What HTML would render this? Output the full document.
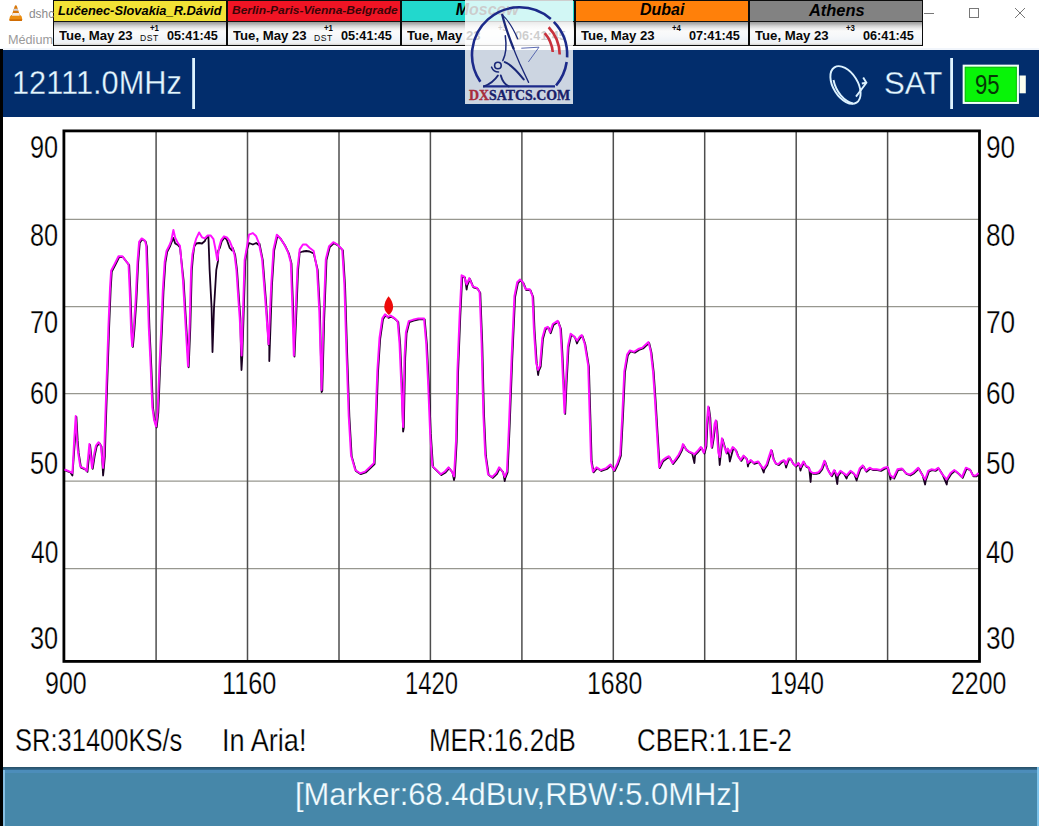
<!DOCTYPE html>
<html><head><meta charset="utf-8"><title>Spectrum</title>
<style>
html,body{margin:0;padding:0;}
body{width:1039px;height:826px;position:relative;overflow:hidden;background:#fff;}
.abs{position:absolute;}
.t{position:absolute;white-space:pre;transform-origin:0 0;}
.box{box-sizing:border-box;border:1px solid #0c0c0c;}
.drow{background:linear-gradient(to bottom,#9a9a9a 0px,#b4b4b4 2px,#d4d4d4 4px,#ececec 6.5px,#fafafa 9px,#f6f8fa 14px,#eef2f7 19px,#f2f2f2 21px,#d8d8d8 22.6px);}
</style></head>
<body>
<div class="abs" style="left:0;top:0;width:1039px;height:50px;background:#fff"></div>
<div class="abs" style="left:0;top:48px;width:1039px;height:2px;background:#f1f5fb"></div>
<div class="abs" style="left:0;top:49px;width:3px;height:777px;background:#000"></div>
<div class="abs" style="left:3px;top:50px;width:1036px;height:67.3px;background:#022d6c"></div>
<div class="abs" style="left:3px;top:767.3px;width:1034px;height:58.7px;background:#4687a9"></div>
<div class="abs" style="left:3px;top:767.3px;width:1034px;height:3px;background:linear-gradient(to bottom,#284f66,#2f6283 70%,#3b7299)"></div>
<div class="abs" style="left:3px;top:770.3px;width:1034px;height:2.4px;background:#4c8dba"></div>
<div class="abs" style="left:1037px;top:767.3px;width:2px;height:58.7px;background:#7cc2ea"></div>
<div class="abs" style="left:3px;top:770px;width:1.5px;height:56px;background:#86bfe2"></div>
<svg class="abs" width="1039" height="826" viewBox="0 0 1039 826" style="left:0;top:0">
<g fill="none"><line x1="64" y1="219.4" x2="979" y2="219.4" stroke="#97978f" stroke-width="1.3"/><line x1="64" y1="306.6" x2="979" y2="306.6" stroke="#97978f" stroke-width="1.3"/><line x1="64" y1="393.6" x2="979" y2="393.6" stroke="#97978f" stroke-width="1.3"/><line x1="64" y1="481.2" x2="979" y2="481.2" stroke="#97978f" stroke-width="1.3"/><line x1="64" y1="568.7" x2="979" y2="568.7" stroke="#97978f" stroke-width="1.3"/><line x1="156.1" y1="131" x2="156.1" y2="661" stroke="#4e4e4e" stroke-width="1.5"/><line x1="247.5" y1="131" x2="247.5" y2="661" stroke="#4e4e4e" stroke-width="1.5"/><line x1="339.0" y1="131" x2="339.0" y2="661" stroke="#4e4e4e" stroke-width="1.5"/><line x1="430.4" y1="131" x2="430.4" y2="661" stroke="#4e4e4e" stroke-width="1.5"/><line x1="521.9" y1="131" x2="521.9" y2="661" stroke="#4e4e4e" stroke-width="1.5"/><line x1="613.3" y1="131" x2="613.3" y2="661" stroke="#4e4e4e" stroke-width="1.5"/><line x1="704.7" y1="131" x2="704.7" y2="661" stroke="#4e4e4e" stroke-width="1.5"/><line x1="796.2" y1="131" x2="796.2" y2="661" stroke="#4e4e4e" stroke-width="1.5"/><line x1="887.6" y1="131" x2="887.6" y2="661" stroke="#4e4e4e" stroke-width="1.5"/></g>
<rect x="63.9" y="130.9" width="915.6" height="530.5" fill="none" stroke="#000" stroke-width="2.8"/>
<polyline points="65.2,470.4 67.7,471.4 70.5,472.5 72.4,475.5 74.9,440.9 76.4,416.9 77.7,440.9 78.7,452.9 81.0,467.6 85.2,469.3 87.5,471.9 90.1,444.8 92.7,468.9 94.7,455.9 96.7,446.4 99.3,443.1 101.5,446.4 103.1,475.5 103.8,468.9 104.9,455.9 105.5,434.1 107.3,381.3 109.1,328.5 110.7,288.9 111.8,271.7 115.2,265.1 119.2,257.2 123.1,257.2 127.1,262.5 129.2,265.1 130.3,288.9 131.9,333.8 132.9,347.0 134.5,328.5 136.3,302.1 138.2,262.5 139.8,242.7 142.4,239.3 145.6,241.4 146.9,246.7 148.2,288.9 149.5,328.5 151.4,368.1 153.0,407.7 154.8,420.9 156.7,427.5 158.3,413.0 160.1,368.1 162.0,328.5 163.5,291.5 165.4,262.5 167.2,251.9 169.9,246.7 171.3,243.0 173.4,238.0 175.2,243.5 177.9,245.0 180.0,247.5 183.6,280.3 186.4,328.1 188.7,367.3 190.3,328.1 191.8,270.7 193.1,255.4 194.3,246.5 196.3,243.5 199.1,243.0 202.0,243.5 204.9,241.0 205.6,239.2 207.7,236.4 208.4,236.3 209.6,269.8 211.6,308.1 212.5,352.0 214.0,308.1 216.3,269.8 218.0,261.1 218.2,250.7 219.9,247.8 221.8,241.1 224.7,237.2 226.9,240.0 229.7,248.0 232.0,250.5 232.7,247.8 235.2,255.4 237.1,270.7 239.0,299.4 240.4,318.5 241.0,356.0 241.5,370.0 242.3,356.4 243.8,309.0 245.3,261.1 246.9,250.0 249.0,243.0 252.9,244.5 256.2,243.0 258.8,245.0 259.5,243.8 262.8,260.1 266.1,302.6 268.6,345.0 269.3,345.1 269.3,361.0 271.9,286.3 274.2,250.3 277.5,235.6 280.8,238.9 285.0,245.4 288.9,253.6 291.5,263.4 292.9,302.6 294.5,356.5 296.1,318.9 298.1,269.9 299.7,252.5 302.9,251.5 306.2,251.0 309.5,251.5 313.7,253.5 317.7,269.9 320.0,312.4 321.6,392.0 322.3,390.8 324.2,318.9 326.5,260.1 329.8,247.0 334.0,243.1 338.0,245.4 342.9,250.3 345.1,286.3 347.1,351.6 349.4,416.9 351.7,456.2 355.9,470.9 360.8,474.2 365.7,472.5 370.4,468.2 374.6,464.0 376.0,427.9 378.0,372.2 380.2,338.8 383.0,319.3 385.7,315.2 388.5,317.9 391.3,316.5 395.5,319.3 398.3,322.1 400.2,344.4 401.9,383.3 403.1,431.5 403.8,427.9 405.2,358.3 406.6,333.2 409.4,322.1 413.6,320.7 419.1,319.3 424.7,319.3 426.9,344.4 428.9,386.1 430.8,433.4 433.0,466.8 437.2,471.0 441.4,475.1 445.6,472.4 449.2,468.2 452.5,472.4 454.0,480.0 454.7,477.3 456.7,441.8 458.1,372.2 460.3,316.5 462.3,276.2 465.0,277.6 466.6,289.5 467.3,285.3 470.0,279.0 473.4,287.3 477.6,288.7 480.3,292.9 482.3,344.4 484.0,413.9 485.9,455.7 488.7,475.1 492.9,477.9 497.0,473.8 499.8,468.2 503.2,472.4 504.7,481.0 505.4,477.9 507.6,472.4 509.6,427.9 512.3,358.3 515.1,297.1 517.9,283.2 520.7,280.4 523.5,283.2 526.3,290.1 530.4,290.1 533.2,297.1 534.6,330.5 536.8,363.9 538.1,375.0 538.8,370.8 540.7,366.6 543.0,338.8 545.7,329.1 548.5,327.7 550.7,333.2 553.5,324.9 558.3,321.6 561.0,329.1 562.4,352.7 563.8,383.3 565.2,413.9 566.6,383.3 568.6,347.2 571.3,334.6 575.0,337.4 577.0,343.5 577.7,341.6 580.5,337.4 582.5,336.0 585.3,344.4 588.9,366.6 590.3,413.9 591.7,461.2 593.6,472.4 597.2,468.2 601.4,471.0 607.0,469.0 611.1,465.4 614.7,471.0 618.1,464.0 620.9,455.7 623.1,413.9 625.0,372.2 627.8,355.5 630.6,351.3 634.8,352.7 639.0,349.9 643.1,348.5 645.9,345.8 649.2,343.0 651.5,352.7 653.7,372.2 655.6,400.0 657.6,433.4 659.8,468.2 663.2,461.2 666.8,458.5 669.6,457.1 673.2,464.0 676.5,459.8 679.3,455.7 682.1,450.1 683.6,445.0 686.5,450.0 689.4,452.2 692.2,453.6 694.4,463.0 695.1,455.1 698.0,452.2 701.6,447.9 704.5,453.6 706.4,446.4 707.4,424.8 708.9,407.4 710.3,417.6 711.0,432.0 712.2,447.9 713.6,439.2 715.3,424.8 716.5,421.2 717.5,432.0 719.7,465.0 720.4,458.0 722.6,439.2 724.7,446.4 726.9,453.6 728.3,449.3 729.8,461.5 733.4,447.9 736.3,450.8 738.4,456.5 741.3,460.9 744.2,456.5 747.1,459.4 747.9,466.5 748.6,463.8 751.4,460.9 754.3,463.8 758.7,462.3 761.5,466.6 763.7,472.5 764.4,469.5 767.3,465.2 769.5,458.0 771.9,450.8 773.8,459.4 776.0,463.8 778.9,465.2 781.8,462.3 784.6,460.9 786.1,467.5 786.8,465.2 789.0,459.4 791.1,459.4 793.3,463.8 796.2,466.6 799.1,463.8 800.5,470.5 801.2,468.1 804.1,462.3 806.3,466.6 809.2,468.1 810.6,482.0 811.3,472.4 813.5,473.9 816.4,473.9 819.3,473.1 822.2,469.5 825.1,461.6 827.9,469.5 830.7,474.6 831.9,476.3 834.9,470.9 837.3,484.0 838.0,476.3 841.1,471.7 844.2,474.0 846.6,478.5 847.3,476.3 851.1,471.7 854.2,474.0 856.6,480.5 857.3,477.9 860.3,469.4 863.4,466.3 866.5,471.7 870.4,468.6 873.4,470.2 877.3,470.2 881.1,470.9 885.0,468.6 888.1,467.8 890.4,479.5 891.1,476.3 894.2,478.6 898.1,470.2 902.7,469.4 906.5,474.0 910.4,475.5 914.2,473.2 918.9,468.6 922.7,475.5 925.1,484.5 925.8,480.4 928.9,471.7 932.0,470.2 935.8,470.9 938.9,468.6 942.7,474.8 946.7,484.5 947.4,480.2 951.2,474.0 955.0,470.9 958.9,474.0 962.7,477.9 966.6,468.6 970.4,470.2 973.5,476.3 976.6,476.3 979.2,474.0" fill="none" stroke="#1a0022" stroke-width="1.8" stroke-linejoin="round"/>
<polyline points="64.5,469.5 67.0,470.5 69.8,471.6 72.4,473.0 74.2,440.0 75.7,416.0 77.0,440.0 78.0,452.0 80.3,466.7 84.5,468.4 86.8,471.0 89.4,443.9 92.0,468.0 94.0,455.0 96.0,445.5 98.6,442.2 100.8,445.5 103.1,468.0 104.2,455.0 104.8,433.2 106.6,380.4 108.4,327.6 110.0,288.0 111.1,270.8 114.5,264.2 118.5,256.3 122.4,256.3 126.4,261.6 128.5,264.2 129.6,288.0 131.2,332.9 132.2,346.1 133.8,327.6 135.6,301.2 137.5,261.6 139.1,241.8 141.7,238.4 144.9,240.5 146.2,245.8 147.5,288.0 148.8,327.6 150.7,367.2 152.3,406.8 154.1,420.0 156.0,426.6 157.6,412.1 159.4,367.2 161.3,327.6 162.8,290.6 164.7,261.6 166.5,251.0 169.2,245.8 171.3,240.5 173.4,229.9 175.2,237.8 177.9,243.1 180.0,245.8 182.9,279.4 185.7,327.2 188.0,366.4 189.6,327.2 191.1,269.8 192.4,254.5 194.3,245.0 196.3,238.3 199.1,232.5 202.0,237.3 204.9,238.3 207.7,235.4 210.6,235.4 213.5,239.2 215.4,248.8 217.3,260.2 219.2,246.9 221.1,240.2 224.0,236.3 226.9,237.3 229.7,241.1 232.0,246.9 234.5,254.5 236.4,269.8 238.3,298.5 239.7,317.6 240.8,340.0 241.6,355.5 243.1,308.1 244.6,260.2 246.9,246.9 249.0,234.7 252.9,233.1 256.2,236.3 258.8,242.9 262.1,259.2 265.4,301.7 268.6,344.2 271.2,285.4 273.5,249.4 276.8,234.7 280.1,238.0 284.3,244.5 288.2,252.7 290.8,262.5 292.2,301.7 293.8,355.6 295.4,318.0 297.4,269.0 299.7,249.4 302.9,244.5 306.2,244.5 309.5,247.8 313.7,251.0 317.0,269.0 319.3,311.5 321.6,389.9 323.5,318.0 325.8,259.2 329.1,246.1 333.3,242.2 337.3,244.5 342.2,249.4 344.4,285.4 346.4,350.7 348.7,416.0 351.0,455.3 355.2,470.0 360.1,473.3 365.0,471.6 369.7,467.3 373.9,463.1 375.3,427.0 377.3,371.3 379.5,337.9 382.3,318.4 385.0,314.3 387.8,317.0 390.6,315.6 394.8,318.4 397.6,321.2 399.5,343.5 401.2,382.4 403.1,427.0 404.5,357.4 405.9,332.3 408.7,321.2 412.9,319.8 418.4,318.4 424.0,318.4 426.2,343.5 428.2,385.2 430.1,432.5 432.3,465.9 436.5,470.1 440.7,474.2 444.9,471.5 448.5,467.3 451.8,471.5 454.0,476.4 456.0,440.9 457.4,371.3 459.6,315.6 461.6,275.3 464.3,276.7 466.6,284.4 469.3,278.1 472.7,286.4 476.9,287.8 479.6,292.0 481.6,343.5 483.3,413.0 485.2,454.8 488.0,474.2 492.2,477.0 496.3,472.9 499.1,467.3 502.5,471.5 504.7,477.0 506.9,471.5 508.9,427.0 511.6,357.4 514.4,296.2 517.2,282.3 520.0,279.5 522.8,282.3 525.6,289.2 529.7,289.2 532.5,296.2 533.9,329.6 536.1,363.0 538.1,369.9 540.0,365.7 542.3,337.9 545.0,328.2 547.8,326.8 550.0,332.3 552.8,324.0 557.6,320.7 560.3,328.2 561.7,351.8 563.1,382.4 564.5,413.0 565.9,382.4 567.9,346.3 570.6,333.7 574.3,336.5 577.0,340.7 579.8,336.5 581.8,335.1 584.6,343.5 588.2,365.7 589.6,413.0 591.0,460.3 592.9,471.5 596.5,467.3 600.7,470.1 606.3,468.1 610.4,464.5 614.0,470.1 617.4,463.1 620.2,454.8 622.4,413.0 624.3,371.3 627.1,354.6 629.9,350.4 634.1,351.8 638.3,349.0 642.4,347.6 645.2,344.9 648.5,342.1 650.8,351.8 653.0,371.3 654.9,399.1 656.9,432.5 659.1,467.3 662.5,460.3 666.1,457.6 668.9,456.2 672.5,463.1 675.8,458.9 678.6,454.8 681.4,449.2 682.9,444.1 685.8,449.1 688.7,451.3 691.5,452.7 694.4,454.2 697.3,451.3 700.9,447.0 703.8,452.7 705.7,445.5 706.7,423.9 708.2,406.5 709.6,416.7 710.3,431.1 711.5,447.0 712.9,438.3 714.6,423.9 715.8,420.3 716.8,431.1 718.3,452.7 719.7,457.1 721.9,438.3 724.0,445.5 726.2,452.7 727.6,448.4 729.8,452.7 732.7,447.0 735.6,449.9 737.7,455.6 740.6,460.0 743.5,455.6 746.4,458.5 747.9,462.9 750.7,460.0 753.6,462.9 758.0,461.4 760.8,465.7 763.7,468.6 766.6,464.3 768.8,457.1 771.2,449.9 773.1,458.5 775.3,462.9 778.2,464.3 781.1,461.4 783.9,460.0 786.1,464.3 788.3,458.5 790.4,458.5 792.6,462.9 795.5,465.7 798.4,462.9 800.5,467.2 803.4,461.4 805.6,465.7 808.5,467.2 810.6,471.5 812.8,473.0 815.7,473.0 818.6,472.2 821.5,468.6 824.4,460.7 827.2,468.6 830.0,473.7 831.2,475.4 834.2,470.0 837.3,475.4 840.4,470.8 843.5,473.1 846.6,475.4 850.4,470.8 853.5,473.1 856.6,477.0 859.6,468.5 862.7,465.4 865.8,470.8 869.7,467.7 872.7,469.3 876.6,469.3 880.4,470.0 884.3,467.7 887.4,466.9 890.4,475.4 893.5,477.7 897.4,469.3 902.0,468.5 905.8,473.1 909.7,474.6 913.5,472.3 918.2,467.7 922.0,474.6 925.1,479.5 928.2,470.8 931.3,469.3 935.1,470.0 938.2,467.7 942.0,473.9 946.7,479.3 950.5,473.1 954.3,470.0 958.2,473.1 962.0,477.0 965.9,467.7 969.7,469.3 972.8,475.4 975.9,475.4 978.5,473.1" fill="none" stroke="#ff10ff" stroke-width="1.95" stroke-linejoin="round"/>
<path d="M388.6,296.3 C391.2,299.5 393.3,303.5 393.1,307.5 C392.9,311 390.6,313.8 388.9,315 C387.1,313.8 384.6,311 384.3,307.5 C384.1,303.5 386,299.5 388.6,296.3 Z" fill="#ee0a0a"/>
</svg>
<svg class="abs" width="1039" height="826" viewBox="0 0 1039 826" style="left:0;top:0">
<rect x="192.2" y="58" width="2.8" height="51" fill="#dff4ff"/>
<rect x="950.2" y="58" width="2.8" height="51" fill="#dff4ff"/>
<g fill="none" stroke="#dcf2ff" stroke-width="1.9">
<ellipse cx="845.5" cy="85" rx="12.2" ry="20.8" transform="rotate(-32 845.5 85)"/>
<path d="M833.5,80 C836,92 844,101 853,103.5" />
<path d="M856,96.6 L866.4,82.8 L863.2,77.6 M866.4,82.8 L861.8,83.5"/>
</g>
<rect x="963.7" y="65.7" width="54.2" height="37.2" fill="#08f408" stroke="#f2fff6" stroke-width="2.1"/><rect x="965.3" y="67.3" width="51" height="34" fill="none" stroke="#12b812" stroke-width="0.9"/>
<rect x="1019.5" y="75.5" width="6.3" height="17.8" fill="#fbfff0"/>
</svg>
<!-- window controls -->
<svg class="abs" width="1039" height="50" style="left:0;top:0">
<line x1="924" y1="13.5" x2="934" y2="13.5" stroke="#777" stroke-width="1"/>
<rect x="969.5" y="8.5" width="9" height="9" fill="none" stroke="#777" stroke-width="1"/>
<path d="M1015,8 L1025,18 M1025,8 L1015,18" stroke="#777" stroke-width="1"/>
<g>
<path d="M11.4,15.1 Q9.5,16 9.3,19.4 Q9.3,20.9 11,20.9 L20.6,20.9 Q22.3,20.9 22.3,19.4 Q22.1,16 20.2,15.1 Z" fill="#ec8e10"/>
<path d="M15.8,5.2 Q16.6,5.2 17,6.6 L19.9,15.6 L11.7,15.6 L14.6,6.6 Q15,5.2 15.8,5.2 Z" fill="#d9780a"/>
<path d="M14,8.7 L17.6,8.7 L18.3,10.8 L13.3,10.8 Z" fill="#d2d2dc"/>
<path d="M12.6,13.1 L19,13.1 L19.8,15.7 L11.8,15.7 Z" fill="#f6ece4"/>
<rect x="9.6" y="19.4" width="12.4" height="1.4" fill="#c96400"/>
</g>
</svg>
<div class="abs box" style="left:53px;top:0;width:174px;height:46px;">
<div class="abs" style="left:0;top:0;width:172px;height:20px;background:#f2e236"></div>
<div class="abs" style="left:0;top:20px;width:172px;height:1.4px;background:#141414"></div>
<div class="abs drow" style="left:0;top:21.4px;width:172px;height:22.6px;"></div>
</div><div class="abs box" style="left:227px;top:0;width:174px;height:46px;">
<div class="abs" style="left:0;top:0;width:172px;height:20px;background:#f01424"></div>
<div class="abs" style="left:0;top:20px;width:172px;height:1.4px;background:#141414"></div>
<div class="abs drow" style="left:0;top:21.4px;width:172px;height:22.6px;"></div>
</div><div class="abs box" style="left:401px;top:0;width:174px;height:46px;">
<div class="abs" style="left:0;top:0;width:172px;height:20px;background:#22d8cd"></div>
<div class="abs" style="left:0;top:20px;width:172px;height:1.4px;background:#141414"></div>
<div class="abs drow" style="left:0;top:21.4px;width:172px;height:22.6px;"></div>
</div><div class="abs box" style="left:575px;top:0;width:174px;height:46px;">
<div class="abs" style="left:0;top:0;width:172px;height:20px;background:#ff800a"></div>
<div class="abs" style="left:0;top:20px;width:172px;height:1.4px;background:#141414"></div>
<div class="abs drow" style="left:0;top:21.4px;width:172px;height:22.6px;"></div>
</div><div class="abs box" style="left:749px;top:0;width:174px;height:46px;">
<div class="abs" style="left:0;top:0;width:172px;height:20px;background:#828282"></div>
<div class="abs" style="left:0;top:20px;width:172px;height:1.4px;background:#141414"></div>
<div class="abs drow" style="left:0;top:21.4px;width:172px;height:22.6px;"></div>
</div>
<span class="t" style="left:12.13px;top:66.40px;font-family:'Liberation Sans', Arial, sans-serif;font-size:33px;line-height:33px;font-weight:400;font-style:normal;color:#e2f6ff;transform:scaleX(0.9330);-webkit-text-stroke:0.3px #022d6c;">12111.0MHz</span><span class="t" style="left:883.75px;top:67.40px;font-family:'Liberation Sans', Arial, sans-serif;font-size:32px;line-height:32px;font-weight:400;font-style:normal;color:#e2f6ff;transform:scaleX(0.9754);-webkit-text-stroke:0.3px #022d6c;">SAT</span><span class="t" style="left:974.61px;top:71.40px;font-family:'Liberation Sans', Arial, sans-serif;font-size:28px;line-height:28px;font-weight:400;font-style:normal;color:#063806;transform:scaleX(0.7897);">95</span><span class="t" style="left:30.37px;top:132.30px;font-family:'Liberation Sans', Arial, sans-serif;font-size:31px;line-height:31px;font-weight:400;font-style:normal;color:#000;transform:scaleX(0.8161);-webkit-text-stroke:0.25px #fff;">90</span><span class="t" style="left:985.51px;top:132.30px;font-family:'Liberation Sans', Arial, sans-serif;font-size:31px;line-height:31px;font-weight:400;font-style:normal;color:#000;transform:scaleX(0.8452);-webkit-text-stroke:0.25px #fff;">90</span><span class="t" style="left:30.37px;top:219.60px;font-family:'Liberation Sans', Arial, sans-serif;font-size:31px;line-height:31px;font-weight:400;font-style:normal;color:#000;transform:scaleX(0.8161);-webkit-text-stroke:0.25px #fff;">80</span><span class="t" style="left:985.51px;top:219.60px;font-family:'Liberation Sans', Arial, sans-serif;font-size:31px;line-height:31px;font-weight:400;font-style:normal;color:#000;transform:scaleX(0.8452);-webkit-text-stroke:0.25px #fff;">80</span><span class="t" style="left:30.37px;top:307.00px;font-family:'Liberation Sans', Arial, sans-serif;font-size:31px;line-height:31px;font-weight:400;font-style:normal;color:#000;transform:scaleX(0.8161);-webkit-text-stroke:0.25px #fff;">70</span><span class="t" style="left:985.51px;top:307.00px;font-family:'Liberation Sans', Arial, sans-serif;font-size:31px;line-height:31px;font-weight:400;font-style:normal;color:#000;transform:scaleX(0.8452);-webkit-text-stroke:0.25px #fff;">70</span><span class="t" style="left:30.37px;top:377.60px;font-family:'Liberation Sans', Arial, sans-serif;font-size:31px;line-height:31px;font-weight:400;font-style:normal;color:#000;transform:scaleX(0.8161);-webkit-text-stroke:0.25px #fff;">60</span><span class="t" style="left:985.51px;top:377.60px;font-family:'Liberation Sans', Arial, sans-serif;font-size:31px;line-height:31px;font-weight:400;font-style:normal;color:#000;transform:scaleX(0.8452);-webkit-text-stroke:0.25px #fff;">60</span><span class="t" style="left:30.37px;top:448.40px;font-family:'Liberation Sans', Arial, sans-serif;font-size:31px;line-height:31px;font-weight:400;font-style:normal;color:#000;transform:scaleX(0.8161);-webkit-text-stroke:0.25px #fff;">50</span><span class="t" style="left:985.51px;top:448.40px;font-family:'Liberation Sans', Arial, sans-serif;font-size:31px;line-height:31px;font-weight:400;font-style:normal;color:#000;transform:scaleX(0.8452);-webkit-text-stroke:0.25px #fff;">50</span><span class="t" style="left:31.21px;top:536.90px;font-family:'Liberation Sans', Arial, sans-serif;font-size:31px;line-height:31px;font-weight:400;font-style:normal;color:#000;transform:scaleX(0.7906);-webkit-text-stroke:0.25px #fff;">40</span><span class="t" style="left:986.38px;top:536.90px;font-family:'Liberation Sans', Arial, sans-serif;font-size:31px;line-height:31px;font-weight:400;font-style:normal;color:#000;transform:scaleX(0.8187);-webkit-text-stroke:0.25px #fff;">40</span><span class="t" style="left:30.37px;top:623.40px;font-family:'Liberation Sans', Arial, sans-serif;font-size:31px;line-height:31px;font-weight:400;font-style:normal;color:#000;transform:scaleX(0.8161);-webkit-text-stroke:0.25px #fff;">30</span><span class="t" style="left:985.51px;top:623.40px;font-family:'Liberation Sans', Arial, sans-serif;font-size:31px;line-height:31px;font-weight:400;font-style:normal;color:#000;transform:scaleX(0.8452);-webkit-text-stroke:0.25px #fff;">30</span><span class="t" style="left:44.59px;top:668.40px;font-family:'Liberation Sans', Arial, sans-serif;font-size:31px;line-height:31px;font-weight:400;font-style:normal;color:#000;transform:scaleX(0.8063);-webkit-text-stroke:0.25px #fff;">900</span><span class="t" style="left:221.85px;top:668.40px;font-family:'Liberation Sans', Arial, sans-serif;font-size:31px;line-height:31px;font-weight:400;font-style:normal;color:#000;transform:scaleX(0.8161);-webkit-text-stroke:0.25px #fff;">1160</span><span class="t" style="left:405.20px;top:668.40px;font-family:'Liberation Sans', Arial, sans-serif;font-size:31px;line-height:31px;font-weight:400;font-style:normal;color:#000;transform:scaleX(0.7677);-webkit-text-stroke:0.25px #fff;">1420</span><span class="t" style="left:586.90px;top:668.40px;font-family:'Liberation Sans', Arial, sans-serif;font-size:31px;line-height:31px;font-weight:400;font-style:normal;color:#000;transform:scaleX(0.8015);-webkit-text-stroke:0.25px #fff;">1680</span><span class="t" style="left:770.46px;top:668.40px;font-family:'Liberation Sans', Arial, sans-serif;font-size:31px;line-height:31px;font-weight:400;font-style:normal;color:#000;transform:scaleX(0.7815);-webkit-text-stroke:0.25px #fff;">1940</span><span class="t" style="left:951.30px;top:668.40px;font-family:'Liberation Sans', Arial, sans-serif;font-size:31px;line-height:31px;font-weight:400;font-style:normal;color:#000;transform:scaleX(0.8015);-webkit-text-stroke:0.25px #fff;">2200</span><span class="t" style="left:15.23px;top:724.80px;font-family:'Liberation Sans', Arial, sans-serif;font-size:30.5px;line-height:30.5px;font-weight:400;font-style:normal;color:#000;transform:scaleX(0.8365);-webkit-text-stroke:0.25px #fff;">SR:31400KS/s</span><span class="t" style="left:221.53px;top:724.80px;font-family:'Liberation Sans', Arial, sans-serif;font-size:30.5px;line-height:30.5px;font-weight:400;font-style:normal;color:#000;transform:scaleX(0.8899);-webkit-text-stroke:0.25px #fff;">In Aria!</span><span class="t" style="left:429.15px;top:724.80px;font-family:'Liberation Sans', Arial, sans-serif;font-size:30.5px;line-height:30.5px;font-weight:400;font-style:normal;color:#000;transform:scaleX(0.8494);-webkit-text-stroke:0.25px #fff;">MER:16.2dB</span><span class="t" style="left:637.01px;top:724.80px;font-family:'Liberation Sans', Arial, sans-serif;font-size:30.5px;line-height:30.5px;font-weight:400;font-style:normal;color:#000;transform:scaleX(0.8464);-webkit-text-stroke:0.25px #fff;">CBER:1.1E-2</span><span class="t" style="left:294.57px;top:778.40px;font-family:'Liberation Sans', Arial, sans-serif;font-size:32px;line-height:32px;font-weight:400;font-style:normal;color:#f2fcff;transform:scaleX(0.9656);-webkit-text-stroke:0.25px #4687a9;">[Marker:68.4dBuv,RBW:5.0MHz]</span><span class="t" style="left:28.71px;top:7.90px;font-family:'Segoe UI', 'Liberation Sans', Arial, sans-serif;font-size:12px;line-height:12px;font-weight:400;font-style:normal;color:#8a8a8a;transform:scaleX(0.9917);">dshc</span><span class="t" style="left:7.75px;top:33.90px;font-family:'Segoe UI', 'Liberation Sans', Arial, sans-serif;font-size:12px;line-height:12px;font-weight:400;font-style:normal;color:#9a9a9a;transform:scaleX(1.0537);">Médium</span><span class="t" style="left:58.00px;top:4.40px;font-family:'Liberation Sans', Arial, sans-serif;font-size:13px;line-height:13px;font-weight:700;font-style:italic;color:#000;transform:scaleX(0.9880);">Lučenec-Slovakia_R.Dávid</span><span class="t" style="left:58.80px;top:28.90px;font-family:'Liberation Sans', Arial, sans-serif;font-size:13.6px;line-height:13.6px;font-weight:700;font-style:normal;color:#080808;transform:scaleX(0.9684);">Tue, May 23</span><span class="t" style="left:149.80px;top:23.80px;font-family:'Liberation Sans', Arial, sans-serif;font-size:9px;line-height:9px;font-weight:700;font-style:normal;color:#080808;transform:scaleX(0.8700);">+1</span><span class="t" style="left:139.64px;top:33.60px;font-family:'Liberation Sans', Arial, sans-serif;font-size:9px;line-height:9px;font-weight:400;font-style:normal;color:#080808;transform:scaleX(0.9556);letter-spacing:0.5px;">DST</span><span class="t" style="left:166.67px;top:28.90px;font-family:'Liberation Sans', Arial, sans-serif;font-size:13.6px;line-height:13.6px;font-weight:700;font-style:normal;color:#080808;transform:scaleX(0.9340);">05:41:45</span><span class="t" style="left:232.10px;top:5.30px;font-family:'Liberation Sans', Arial, sans-serif;font-size:11.5px;line-height:11.5px;font-weight:700;font-style:italic;color:#3a0508;transform:scaleX(1.0443);">Berlin-Paris-Vienna-Belgrade</span><span class="t" style="left:232.80px;top:28.90px;font-family:'Liberation Sans', Arial, sans-serif;font-size:13.6px;line-height:13.6px;font-weight:700;font-style:normal;color:#080808;transform:scaleX(0.9684);">Tue, May 23</span><span class="t" style="left:323.80px;top:23.80px;font-family:'Liberation Sans', Arial, sans-serif;font-size:9px;line-height:9px;font-weight:700;font-style:normal;color:#080808;transform:scaleX(0.8700);">+1</span><span class="t" style="left:313.64px;top:33.60px;font-family:'Liberation Sans', Arial, sans-serif;font-size:9px;line-height:9px;font-weight:400;font-style:normal;color:#080808;transform:scaleX(0.9556);letter-spacing:0.5px;">DST</span><span class="t" style="left:340.67px;top:28.90px;font-family:'Liberation Sans', Arial, sans-serif;font-size:13.6px;line-height:13.6px;font-weight:700;font-style:normal;color:#080808;transform:scaleX(0.9340);">05:41:45</span><span class="t" style="left:455.70px;top:2.40px;font-family:'Liberation Sans', Arial, sans-serif;font-size:16px;line-height:16px;font-weight:700;font-style:italic;color:#000;transform:scaleX(1.0000);">Moscow</span><span class="t" style="left:406.80px;top:28.90px;font-family:'Liberation Sans', Arial, sans-serif;font-size:13.6px;line-height:13.6px;font-weight:700;font-style:normal;color:#080808;transform:scaleX(0.9684);">Tue, May 23</span><span class="t" style="left:497.80px;top:23.80px;font-family:'Liberation Sans', Arial, sans-serif;font-size:9px;line-height:9px;font-weight:700;font-style:normal;color:#080808;transform:scaleX(0.8700);">+3</span><span class="t" style="left:514.67px;top:28.90px;font-family:'Liberation Sans', Arial, sans-serif;font-size:13.6px;line-height:13.6px;font-weight:700;font-style:normal;color:#080808;transform:scaleX(0.9340);">06:41:45</span><span class="t" style="left:640.40px;top:2.20px;font-family:'Liberation Sans', Arial, sans-serif;font-size:16px;line-height:16px;font-weight:700;font-style:italic;color:#000;transform:scaleX(0.9978);">Dubai</span><span class="t" style="left:580.80px;top:28.90px;font-family:'Liberation Sans', Arial, sans-serif;font-size:13.6px;line-height:13.6px;font-weight:700;font-style:normal;color:#080808;transform:scaleX(0.9684);">Tue, May 23</span><span class="t" style="left:671.80px;top:23.80px;font-family:'Liberation Sans', Arial, sans-serif;font-size:9px;line-height:9px;font-weight:700;font-style:normal;color:#080808;transform:scaleX(0.8700);">+4</span><span class="t" style="left:688.67px;top:28.90px;font-family:'Liberation Sans', Arial, sans-serif;font-size:13.6px;line-height:13.6px;font-weight:700;font-style:normal;color:#080808;transform:scaleX(0.9340);">07:41:45</span><span class="t" style="left:808.80px;top:2.50px;font-family:'Liberation Sans', Arial, sans-serif;font-size:16px;line-height:16px;font-weight:700;font-style:italic;color:#000;transform:scaleX(1.0264);">Athens</span><span class="t" style="left:754.80px;top:28.90px;font-family:'Liberation Sans', Arial, sans-serif;font-size:13.6px;line-height:13.6px;font-weight:700;font-style:normal;color:#080808;transform:scaleX(0.9684);">Tue, May 23</span><span class="t" style="left:845.80px;top:23.80px;font-family:'Liberation Sans', Arial, sans-serif;font-size:9px;line-height:9px;font-weight:700;font-style:normal;color:#080808;transform:scaleX(0.8700);">+3</span><span class="t" style="left:862.67px;top:28.90px;font-family:'Liberation Sans', Arial, sans-serif;font-size:13.6px;line-height:13.6px;font-weight:700;font-style:normal;color:#080808;transform:scaleX(0.9340);">06:41:45</span>
<div class="abs" style="left:465px;top:0;width:108.3px;height:103.8px;background:rgba(255,255,255,0.8)"></div>
<svg class="abs" width="1039" height="826" viewBox="0 0 1039 826" style="left:0;top:0">
<g fill="none" stroke="#1c2a8a" stroke-width="2.6" stroke-linecap="butt">
<path d="M480.37,81.86 A47.6,47.6 0 0 1 550.83,18.98"/>
<path d="M553.84,21.83 A47.6,47.6 0 0 1 567.13,57.39"/>
<path d="M566.68,61.94 A47.6,47.6 0 0 1 556.06,85.50"/>
<path d="M483,86.4 L555,86.4" stroke-width="2.4"/>
</g>
<g fill="none" stroke="#c8323c" stroke-width="2.6">
<path d="M548.64,27.25 A40.1,40.1 0 0 1 559.70,54.55"/>
<path d="M544.73,33.05 A33.3,33.3 0 0 1 552.77,52.00"/>
</g>
<g fill="none" stroke="#1a2878" stroke-linecap="round">
<path d="M502.3,14.9 C504.5,24 509,37 513.5,48.5" stroke-width="2.3"/>
<path d="M513.5,48.5 C516,55 518,59.5 519.7,63.6 L528.6,82.4" stroke-width="1.3"/>
<path d="M502.3,14.9 C507,19 513,28 517.7,38.8" stroke-width="1.2"/>
<path d="M521.7,48.2 L539,47.2 L528.6,61.6" stroke-width="0.9" stroke="#4a5aa8"/>
<path d="M505.3,35.8 C506.5,44 506.5,53 502.8,60.6" stroke-width="1.5"/>
<path d="M504.8,62.1 C510,64 517,71 523.7,79.4" stroke-width="2.0"/>
<path d="M491.6,67.2 C493,70.5 495.5,72 498.5,72" stroke-width="1.6"/>
<path d="M497.9,75.5 C495,80 490,84 484,86.4" stroke-width="1.9"/>
<path d="M500.8,75.5 C502,80 504,84 508.8,86.4" stroke-width="1.9"/>
</g>
<circle cx="497.9" cy="65.5" r="3.3" fill="none" stroke="#1a2878" stroke-width="1.6"/>
</svg>
<span class="t" style="left:469.00px;top:89.30px;font-family:'Liberation Serif', 'Times New Roman', serif;font-size:14px;line-height:14px;font-weight:700;font-style:normal;color:#18206a;transform:scaleX(0.9912);-webkit-text-stroke:0.35px currentColor;"><span style="color:#a82c3c">DX</span>SATCS.COM</span>
</body></html>
